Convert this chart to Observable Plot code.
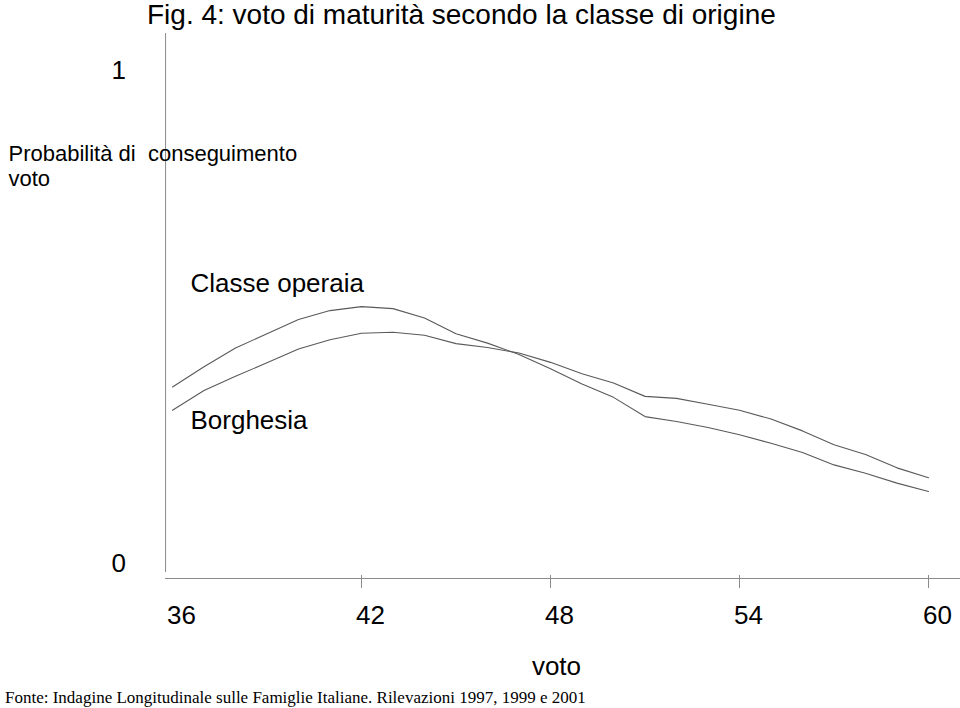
<!DOCTYPE html>
<html>
<head>
<meta charset="utf-8">
<script src="https://cdn.jsdelivr.net/npm/d3@7"></script>
<script src="https://cdn.jsdelivr.net/npm/@observablehq/plot@0.6"></script>
<style>
  html, body { margin: 0; padding: 0; background: #fff; }
  body { width: 960px; height: 708px; overflow: hidden; font-family: "Liberation Sans", Arial, sans-serif; }
  #title { font-size: 28px; line-height: 30px; height: 30px; padding-left: 147px; color: #000; white-space: nowrap; }
  #chart { height: 658px; }
  #caption { font-family: "Liberation Serif", "Times New Roman", serif; font-size: 17px; line-height: 20px; height: 20px; padding-left: 5px; color: #000; white-space: nowrap; }
  svg text { white-space: pre; }
</style>
</head>
<body>
<div id="title">Fig. 4: voto di maturità secondo la classe di origine</div>
<div id="chart"></div>
<div id="caption">Fonte: Indagine Longitudinale sulle Famiglie Italiane. Rilevazioni 1997, 1999 e 2001</div>
<script>
// voto di maturità (36..60)
const voti = [36,37,38,39,40,41,42,43,44,45,46,47,48,49,50,51,52,53,54,55,56,57,58,59,60];
// Probabilità di conseguimento voto — Classe operaia
const classeOperaia = [0.358,0.399,0.437,0.466,0.495,0.513,0.521,0.517,0.498,0.466,0.447,0.424,0.395,0.364,0.337,0.298,0.288,0.276,0.261,0.244,0.225,0.200,0.183,0.163,0.146];
// Probabilità di conseguimento voto — Borghesia
const borghesia = [0.311,0.351,0.380,0.407,0.435,0.454,0.467,0.469,0.463,0.446,0.438,0.427,0.408,0.385,0.366,0.339,0.335,0.323,0.311,0.293,0.269,0.241,0.221,0.194,0.174];
// tick labels
const xTicks = [36,42,48,54,60];
const xTickMarks = [42,48,54,60];
const yTickLabels = [{v: 1, label: "1"}, {v: 0, label: "0"}];

const rows = [];
voti.forEach((v, i) => {
  rows.push({voto: v, p: classeOperaia[i], classe: "Classe operaia"});
  rows.push({voto: v, p: borghesia[i], classe: "Borghesia"});
});

const axisColor = "#8a8a8a";
const lineColor = "#5a5a5a";

const chart = Plot.plot({
  width: 960,
  height: 658,
  marginLeft: 172,
  marginRight: 32,
  marginTop: 40,
  marginBottom: 125,
  style: {fontFamily: "'Liberation Sans', Arial, sans-serif", color: "#000", background: "#fff", overflow: "visible"},
  x: {domain: [36, 60], axis: null},
  y: {domain: [0, 1], axis: null},
  marks: [
    // axes lines
    Plot.ruleY([-0.0304], {x1: 35.78, x2: 61.02, stroke: axisColor, strokeWidth: 1}),
    Plot.ruleX([35.78], {y1: -0.0183, y2: 1.075, stroke: axisColor, strokeWidth: 1}),
    Plot.ruleX(xTickMarks, {x: d => d, y1: -0.0243, y2: -0.0507, stroke: axisColor, strokeWidth: 1}),
    // tick labels
    Plot.text(xTicks, {x: d => d, y: -0.1055, text: d => String(d), dx: 9, fontSize: 26, fill: "#000"}),
    Plot.text(yTickLabels, {x: 34.29, y: "v", text: "label", fontSize: 26, fill: "#000"}),
    Plot.text(["voto"], {x: 48.19, y: -0.209, text: d => d, fontSize: 26, fill: "#000"}),
    // y title
    Plot.text(["Probabilità di  conseguimento"], {x: 30.794, y: 0.830, text: d => d, textAnchor: "start", fontSize: 22, fill: "#000"}),
    Plot.text(["voto"], {x: 30.794, y: 0.779, text: d => d, textAnchor: "start", fontSize: 22, fill: "#000"}),
    // curves
    Plot.line(rows, {x: "voto", y: "p", z: "classe", stroke: lineColor, strokeWidth: 1.1}),
    // series labels
    Plot.text(["Classe operaia"], {x: 36.571, y: 0.568, text: d => d, textAnchor: "start", fontSize: 26, fill: "#000"}),
    Plot.text(["Borghesia"], {x: 36.571, y: 0.290, text: d => d, textAnchor: "start", fontSize: 26, fill: "#000"})
  ]
});
document.getElementById("chart").appendChild(chart);
</script>
</body>
</html>
